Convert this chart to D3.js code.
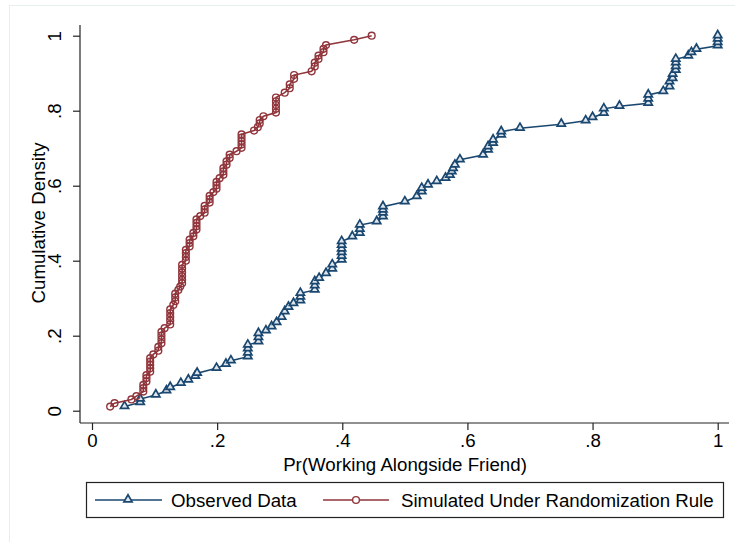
<!DOCTYPE html>
<html><head><meta charset="utf-8">
<script src="https://cdn.jsdelivr.net/npm/d3@7"></script>
<style>body{margin:0;background:#fff}svg{display:block}text{font-family:"Liberation Sans",Arial,sans-serif;fill:#000}</style>
</head><body><svg id="c" width="735" height="542"></svg>
<script>
// Observed data (x = Pr(working alongside friend), y = cumulative density)
const observedX = [0.052,0.077,0.077,0.102,0.119,0.125,0.142,0.154,0.165,0.168,0.199,0.214,0.222,0.249,0.249,0.249,0.249,0.266,0.266,0.266,0.278,0.287,0.295,0.303,0.308,0.314,0.322,0.333,0.333,0.333,0.356,0.356,0.356,0.363,0.374,0.384,0.384,0.399,0.399,0.399,0.399,0.399,0.399,0.416,0.428,0.428,0.428,0.455,0.465,0.465,0.465,0.465,0.500,0.519,0.527,0.527,0.537,0.551,0.565,0.572,0.575,0.577,0.580,0.588,0.625,0.633,0.633,0.641,0.641,0.654,0.654,0.684,0.750,0.789,0.800,0.818,0.818,0.843,0.889,0.889,0.889,0.913,0.923,0.923,0.928,0.928,0.933,0.933,0.933,0.933,0.953,0.958,0.966,1.0,1.0,1.0,1.0];
const observedY = [0.011,0.022,0.031,0.042,0.053,0.062,0.073,0.082,0.092,0.100,0.113,0.124,0.133,0.144,0.154,0.165,0.175,0.184,0.195,0.206,0.213,0.224,0.235,0.249,0.264,0.276,0.286,0.293,0.303,0.313,0.322,0.333,0.344,0.353,0.366,0.378,0.389,0.402,0.412,0.422,0.431,0.441,0.451,0.464,0.473,0.484,0.495,0.504,0.517,0.527,0.535,0.544,0.557,0.571,0.584,0.593,0.602,0.611,0.620,0.628,0.637,0.646,0.655,0.669,0.682,0.695,0.704,0.713,0.722,0.735,0.744,0.753,0.764,0.773,0.782,0.793,0.805,0.812,0.820,0.831,0.842,0.851,0.864,0.877,0.886,0.897,0.908,0.918,0.928,0.937,0.946,0.955,0.964,0.973,0.982,0.991,1.0];
// Simulated under randomization rule
const simulatedX = [0.029,0.036,0.063,0.071,0.082,0.082,0.082,0.087,0.087,0.087,0.093,0.093,0.093,0.093,0.093,0.098,0.106,0.106,0.111,0.111,0.111,0.111,0.116,0.125,0.125,0.125,0.125,0.125,0.130,0.133,0.133,0.133,0.138,0.141,0.144,0.144,0.144,0.144,0.144,0.144,0.150,0.150,0.150,0.150,0.156,0.156,0.156,0.162,0.162,0.167,0.167,0.167,0.167,0.173,0.180,0.180,0.180,0.188,0.188,0.188,0.194,0.199,0.199,0.199,0.204,0.210,0.210,0.210,0.215,0.215,0.220,0.220,0.231,0.239,0.239,0.239,0.239,0.239,0.259,0.265,0.268,0.268,0.274,0.294,0.294,0.294,0.294,0.294,0.308,0.316,0.316,0.323,0.323,0.351,0.356,0.356,0.362,0.362,0.370,0.370,0.374,0.419,0.447];
const simulatedY = [0.011,0.020,0.030,0.039,0.051,0.060,0.069,0.078,0.087,0.095,0.104,0.113,0.122,0.131,0.140,0.150,0.160,0.170,0.180,0.190,0.200,0.210,0.220,0.230,0.240,0.250,0.260,0.270,0.282,0.292,0.302,0.312,0.322,0.331,0.340,0.349,0.359,0.369,0.379,0.389,0.400,0.410,0.420,0.429,0.438,0.447,0.456,0.465,0.474,0.483,0.492,0.501,0.510,0.519,0.528,0.537,0.546,0.555,0.564,0.573,0.583,0.592,0.601,0.610,0.620,0.629,0.638,0.647,0.656,0.665,0.674,0.683,0.692,0.701,0.710,0.719,0.728,0.737,0.747,0.756,0.766,0.775,0.785,0.795,0.805,0.815,0.825,0.835,0.848,0.860,0.870,0.885,0.895,0.905,0.918,0.928,0.938,0.947,0.956,0.965,0.975,0.989,1.0];
const xTicks = [0,0.2,0.4,0.6,0.8,1];
const yTicks = [0,0.2,0.4,0.6,0.8,1];
const tickLabel = v => v===0?"0":v===1?"1":String(v).replace(/^0/,"");
const seriesNames = ["Observed Data","Simulated Under Randomization Rule"];

const blue="#1a476f", red="#90353b", FS=18.7;
const svg=d3.select("#c");
svg.append("rect").attr("x",9.5).attr("y",5.5).attr("width",800).attr("height",600).attr("fill","#fff").attr("stroke","#e6eeee");

const x=d3.scaleLinear().domain([0,1]).range([92,717.7]);
const y=d3.scaleLinear().domain([0,1]).range([410.7,35.7]);

// axes lines
svg.append("line").attr("x1",80).attr("x2",80).attr("y1",25).attr("y2",423).attr("stroke","#222").attr("stroke-width",1.2);
svg.append("line").attr("x1",80).attr("x2",729).attr("y1",423).attr("y2",423).attr("stroke","#222").attr("stroke-width",1.2);

const xa=svg.append("g").attr("transform","translate(0,423)").call(d3.axisBottom(x).tickValues(xTicks).tickSize(7).tickFormat(tickLabel));
xa.select(".domain").remove();
xa.selectAll("line").attr("stroke","#222").attr("stroke-width",1.2);
xa.selectAll("text").attr("font-size",FS).attr("dy",0).attr("y",24).attr("font-family","Liberation Sans, Arial, sans-serif");

const ya=svg.append("g").attr("transform","translate(80,0)").call(d3.axisLeft(y).tickValues(yTicks).tickSize(7).tickFormat(tickLabel));
ya.select(".domain").remove();
ya.selectAll("line").attr("stroke","#222").attr("stroke-width",1.2);
ya.selectAll("text").attr("font-size",FS).attr("x",0).attr("dy",0).attr("text-anchor","middle")
  .attr("transform","translate(-19,0) rotate(-90)").attr("font-family","Liberation Sans, Arial, sans-serif");

svg.append("text").attr("x",405).attr("y",471).attr("text-anchor","middle").attr("font-size",FS).text("Pr(Working Alongside Friend)");
svg.append("text").attr("transform","translate(45,223) rotate(-90)").attr("text-anchor","middle").attr("font-size",FS).text("Cumulative Density");

const line=d3.line().x(d=>x(d[0])).y(d=>y(d[1]));
const obs=observedX.map((v,i)=>[v,observedY[i]]);
const sim=simulatedX.map((v,i)=>[v,simulatedY[i]]);
const tri=d3.symbol().type(d3.symbolTriangle).size(29);

svg.append("path").datum(obs).attr("d",line).attr("fill","none").attr("stroke",blue).attr("stroke-width",1.6);
svg.append("g").selectAll("path").data(obs).join("path").attr("d",tri)
  .attr("transform",d=>`translate(${x(d[0])},${y(d[1])-0.5})`).attr("fill","#dfe6ee").attr("stroke",blue).attr("stroke-width",1.7);

svg.append("path").datum(sim).attr("d",line).attr("fill","none").attr("stroke",red).attr("stroke-width",1.6);
svg.append("g").selectAll("circle").data(sim).join("circle").attr("cx",d=>x(d[0])).attr("cy",d=>y(d[1])).attr("r",3.4)
  .attr("fill","none").attr("stroke",red).attr("stroke-width",1.4);

// legend
const lg=svg.append("g");
lg.append("rect").attr("x",86.5).attr("y",482.5).attr("width",637).attr("height",35).attr("fill","#fff").attr("stroke","#222").attr("stroke-width",1.2);
lg.append("line").attr("x1",95).attr("x2",162).attr("y1",500).attr("y2",500).attr("stroke",blue).attr("stroke-width",1.6);
lg.append("path").attr("d",tri).attr("transform","translate(128,499.5)").attr("fill","#dfe6ee").attr("stroke",blue).attr("stroke-width",1.7);
lg.append("text").attr("x",171).attr("y",507).attr("font-size",FS).text(seriesNames[0]);
lg.append("line").attr("x1",323).attr("x2",389).attr("y1",500).attr("y2",500).attr("stroke",red).attr("stroke-width",1.6);
lg.append("circle").attr("cx",356).attr("cy",500).attr("r",3.4).attr("fill","#fff").attr("stroke",red).attr("stroke-width",1.4);
lg.append("text").attr("x",401).attr("y",507).attr("font-size",FS).text(seriesNames[1]);
</script></body></html>
